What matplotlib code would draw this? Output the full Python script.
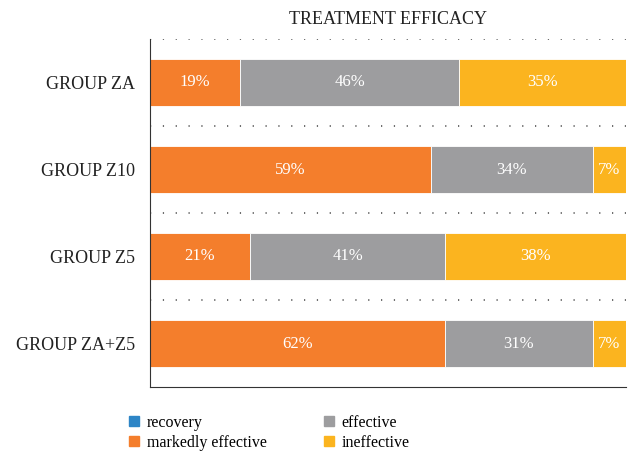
import numpy as np
import matplotlib
matplotlib.use("Agg")
import matplotlib.pyplot as plt
from matplotlib.lines import Line2D

plt.rcParams['font.family'] = ['Liberation Serif', 'DejaVu Serif']

# data
groups = ["GROUP ZA", "GROUP Z10", "GROUP Z5", "GROUP ZA+Z5"]
series = ["recovery", "markedly effective", "effective", "ineffective"]
recovery = [0, 0, 0, 0]
markedly = [19, 59, 21, 62]
effective = [46, 34, 41, 31]
ineffective = [35, 7, 38, 7]
colors = ["#2D85C6", "#F47E2C", "#9D9D9F", "#FBB41F"]

fig = plt.figure(figsize=(6.32, 4.51), dpi=100)
ax = fig.add_axes([150/632, 1-387/451, 476/632, 348/451])

y = np.arange(len(groups))[::-1]  # top to bottom
left = np.zeros(len(groups))
for vals, name, c in zip([recovery, markedly, effective, ineffective], series, colors):
    vals = np.array(vals, dtype=float)
    ax.barh(y, vals, left=left, height=0.54, color=c, edgecolor="white",
            linewidth=0.6, label=name)
    for yi, v, l in zip(y, vals, left):
        if v > 0:
            ax.text(l + v/2, yi, f"{int(v)}%", ha="center", va="center",
                    color="white", fontsize=12)
    left += vals

ax.set_xlim(0, 100)
ax.set_ylim(-0.5, len(groups) - 0.5)
ax.set_yticks(y)
ax.set_yticklabels(groups, fontsize=13, color="#222222")
ax.tick_params(axis="y", length=0, pad=11)
ax.set_xticks([])

# dotted separators at top of each band
for b in y + 0.5:
    ax.axhline(b, color="#444444", lw=1.1, ls=(0, (0.8, 7.6)))
for s in ["top", "right"]:
    ax.spines[s].set_visible(False)
ax.spines["left"].set_color("#333333")
ax.spines["bottom"].set_color("#333333")

ax.set_title("TREATMENT EFFICACY", fontsize=13, color="#222222", pad=11)

handles = [Line2D([0], [0], marker="s", ls="none", markersize=7,
                  markerfacecolor=c, markeredgecolor=c) for c in colors]
fig.legend(handles, series, ncol=2, loc="upper left",
           bbox_to_anchor=(118/632, 1-407/451), frameon=False, borderpad=0,
           fontsize=11.5, handletextpad=0.3, columnspacing=3.4,
           labelspacing=0.25, handlelength=1.0)

fig.savefig("out.png", dpi=100)
